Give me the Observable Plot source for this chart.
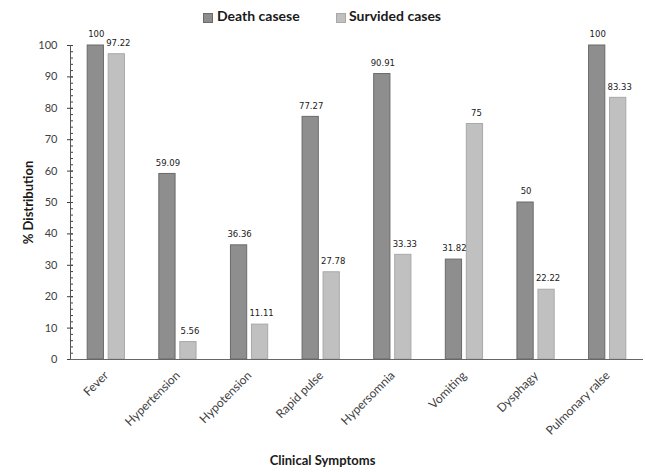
<!DOCTYPE html>
<html><head><meta charset="utf-8">
<script src="https://cdn.jsdelivr.net/npm/d3@7"></script>
<script src="https://cdn.jsdelivr.net/npm/@observablehq/plot@0.6"></script>
<style>
body{margin:0;background:#fff;font-family:Lato,sans-serif;}
#wrap{width:645px;height:472px;position:relative;overflow:hidden;}
#legend{height:30px;position:relative;font-weight:bold;font-size:14px;color:#1a1a1a;}
#legend .sw{position:absolute;top:13px;width:8px;height:8px;}
#legend .lb{position:absolute;top:8px;line-height:16px;}
#caption{position:absolute;top:452px;left:0;width:645px;text-align:center;font-weight:bold;font-size:13px;color:#1a1a1a;}
</style></head>
<body><div id="wrap">
<div id="legend">
  <div class="sw" style="left:203px;background:#8e8e8e;border:1px solid #6a6a6a"></div><div class="lb" style="left:217px">Death casese</div>
  <div class="sw" style="left:336px;background:#c0c0c0;border:1px solid #a8a8a8"></div><div class="lb" style="left:349px">Survided cases</div>
</div>
<div id="chart"></div>
<div id="caption">Clinical Symptoms</div>
</div>
<script>
const categories = ["Fever","Hypertension","Hypotension","Rapid pulse","Hypersomnia","Vomiting","Dysphagy","Pulmonary ralse"];
const death = [100, 59.09, 36.36, 77.27, 90.91, 31.82, 50, 100];
const survived = [97.22, 5.56, 11.11, 27.78, 33.33, 75, 22.22, 83.33];
const yTicks = [0,10,20,30,40,50,60,70,80,90,100];
const yMinor = d3.range(0, 101, 2);

const deathRows = categories.map((c,i)=>({cat:c, v:death[i]}));
const survRows = categories.map((c,i)=>({cat:c, v:survived[i]}));

const chart = Plot.plot({
  width: 645, height: 420,
  marginLeft: 70, marginRight: 2, marginTop: 15, marginBottom: 91,
  style: {fontFamily: "Lato, sans-serif", color: "#404040", background: "#fff"},
  x: {domain: categories, paddingInner: 0.48, paddingOuter: 0.24, round: false, label: null},
  y: {domain: [0, 100], label: null},
  marks: [
    Plot.barY(deathRows, {x: "cat", y: "v", insetRight: 21, insetLeft: 0, fill: "#8e8e8e", stroke: "#6a6a6a", strokeWidth: 1}),
    Plot.barY(survRows, {x: "cat", y: "v", insetLeft: 21, insetRight: 0, fill: "#c0c0c0", stroke: "#a8a8a8", strokeWidth: 1}),
    Plot.text(deathRows, {x: "cat", y: "v", text: d => String(d.v), dx: -10, dy: -11, fontSize: 8.5, fontFamily: "DejaVu Sans", fill: "#1a1a1a"}),
    Plot.text(survRows, {x: "cat", y: "v", text: d => String(d.v), dx: 12, dy: -11, fontSize: 8.5, fontFamily: "DejaVu Sans", fill: "#1a1a1a"}),
    Plot.axisY(yMinor, {tickSize: 3, dx: 3, text: null, label: null, stroke: "#404040"}),
    Plot.axisY(yTicks, {tickSize: 6, dx: 3, tickPadding: 10, fontSize: 11, label: null, stroke: "#404040"}),
    Plot.axisY([], {label: "% Distribution", labelAnchor: "center", labelOffset: 47, labelArrow: "none", fontSize: 13, fontWeight: "bold", fill: "#1a1a1a"}),
    Plot.frame({anchor: "left", stroke: "#555"}),
    Plot.ruleY([0], {stroke: "#666", strokeWidth: 1.2}),
    Plot.axisX({tickSize: 0, tickRotate: -45, tickPadding: 14, fontSize: 12, label: null})
  ]
});
document.getElementById("chart").appendChild(chart);
</script>
</body></html>
